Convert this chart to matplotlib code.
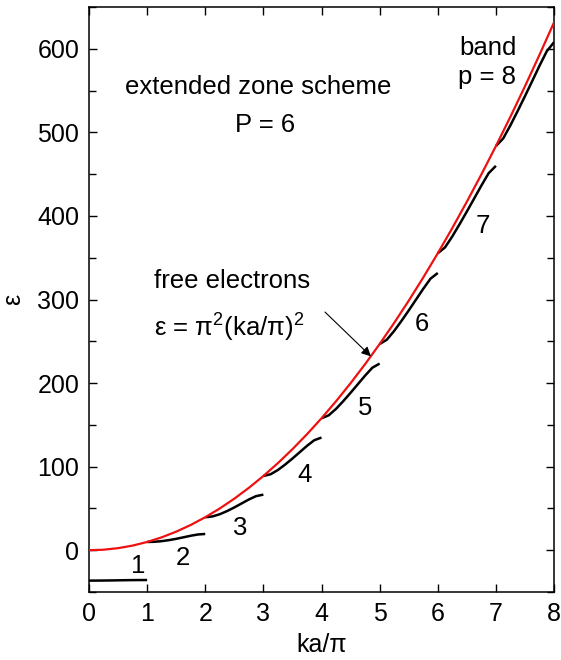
import numpy as np
import matplotlib
matplotlib.use("Agg")
import matplotlib.pyplot as plt
from matplotlib.ticker import MultipleLocator

plt.rcParams['font.family'] = ['Liberation Sans', 'DejaVu Sans']
plt.rcParams['mathtext.fontset'] = 'custom'
plt.rcParams['mathtext.rm'] = 'Liberation Sans'
plt.rcParams['mathtext.it'] = 'Liberation Sans'

# free electron parabola, read at steps of 0.25 in ka/pi
free_k = [0, 0.25, 0.5, 0.75, 1, 1.25, 1.5, 1.75, 2, 2.25, 2.5, 2.75, 3, 3.25, 3.5,
          3.75, 4, 4.25, 4.5, 4.75, 5, 5.25, 5.5, 5.75, 6, 6.25, 6.5, 6.75, 7,
          7.25, 7.5, 7.75, 8]
free_e = [0, 0.62, 2.47, 5.55, 9.87, 15.42, 22.21, 30.23, 39.48, 49.96, 61.69,
          74.64, 88.83, 104.25, 120.90, 138.79, 157.91, 178.27, 199.86, 222.68,
          246.74, 272.03, 298.56, 326.31, 355.31, 385.53, 416.99, 449.68, 483.61,
          518.77, 555.17, 592.79, 631.65]

# position inside each band (fraction of the zone), same for every band
zone_frac = [0, 0.125, 0.25, 0.375, 0.5, 0.625, 0.75, 0.875, 1]

# band energies, band p runs from ka/pi = p-1 to p
band_1 = [-36.36, -36.33, -36.25, -36.14, -36.0, -35.86, -35.75, -35.67, -35.64]
band_2 = [9.87, 10.12, 10.87, 12.07, 13.64, 15.47, 17.33, 18.84, 19.49]
band_3 = [39.48, 40.45, 43.09, 46.82, 51.21, 55.96, 60.72, 64.76, 66.52]
band_4 = [88.83, 90.94, 96.02, 102.52, 109.73, 117.31, 124.88, 131.62, 134.84]
band_5 = [157.91, 161.48, 169.21, 178.45, 188.38, 198.66, 208.96, 218.42, 223.33]
band_6 = [246.74, 251.98, 262.42, 274.35, 286.91, 299.81, 312.78, 324.95, 331.73]
band_7 = [355.31, 362.40, 375.53, 390.09, 405.25, 420.74, 436.31, 451.16, 459.92]
band_8 = [483.61, 492.69, 508.48, 525.65, 543.36, 561.41, 579.75, 597.04, 607.88]
bands = [band_1, band_2, band_3, band_4, band_5, band_6, band_7, band_8]

fig = plt.figure(figsize=(5.61, 6.60), dpi=100)
ax = fig.add_axes([0.1586, 0.103, 0.829, 0.8864])

for p, e in enumerate(bands, start=1):
    ax.plot(np.array(zone_frac) + p - 1, e, color='black', lw=1.8,
            solid_capstyle='butt', zorder=2)

ax.plot(free_k, free_e, color='#ee1111', lw=1.6, zorder=3)

ax.set_xlim(0, 8)
ax.set_ylim(-50, 650)
ax.xaxis.set_major_locator(MultipleLocator(1))
ax.yaxis.set_major_locator(MultipleLocator(100))
ax.yaxis.set_minor_locator(MultipleLocator(50))
ax.tick_params(which='both', direction='in', top=True, right=True,
               labelsize=18, width=1.0, pad=7, colors='black')
ax.tick_params(which='major', length=6)
ax.tick_params(which='minor', length=5)
ax.set_yticks([0, 100, 200, 300, 400, 500, 600])
for s in ax.spines.values():
    s.set_linewidth(1.1)

ax.set_xlabel('ka/π', fontsize=18, labelpad=5)
ax.set_ylabel('ε', fontsize=18, labelpad=9)

fs = 18.5
ax.text(2.91, 546, 'extended zone scheme', fontsize=fs, ha='center', va='baseline')
ax.text(3.03, 501, 'P = 6', fontsize=fs, ha='center', va='baseline')
ax.text(6.86, 592, 'band', fontsize=fs, ha='center', va='baseline')
ax.text(6.84, 558, 'p = 8', fontsize=fs, ha='center', va='baseline')
ax.text(1.12, 314, 'free electrons', fontsize=fs, ha='left', va='baseline')
ax.text(1.12, 256, r'ε = π$^2$(ka/π)$^2$', fontsize=fs, ha='left', va='baseline')

ax.annotate('', xy=(4.85, 232), xytext=(4.06, 285),
            arrowprops=dict(arrowstyle='-|>', color='black', lw=0.8,
                            mutation_scale=14, shrinkA=0, shrinkB=0))

# band numbers
label_x = [0.84, 1.62, 2.60, 3.71, 4.75, 5.72, 6.78]
label_y = [-27, -18, 18, 82, 162, 262, 379]
for i, (lx, ly) in enumerate(zip(label_x, label_y), start=1):
    ax.text(lx, ly, str(i), fontsize=fs, ha='center', va='baseline')

fig.savefig('out.png', dpi=100)
